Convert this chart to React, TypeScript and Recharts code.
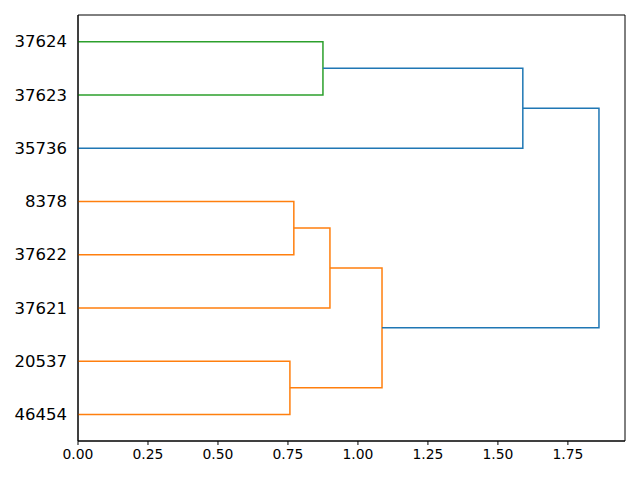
import { LineChart, Line, XAxis, YAxis, ReferenceArea } from 'recharts'

// leaves from bottom to top
const leafLabels = ['46454', '20537', '37621', '37622', '8378', '35736', '37623', '37624']
// merges: children ids (leaves 0..7, merges 8..), height, colour
const mergeLeft = [0, 3, 2, 8, 6, 5, 11]
const mergeRight = [1, 4, 9, 10, 7, 12, 13]
const mergeHeight = [0.757, 0.771, 0.9, 1.086, 0.875, 1.589, 1.861]
const mergeColor = ['#ff7f0e', '#ff7f0e', '#ff7f0e', '#ff7f0e', '#2ca02c', '#1f77b4', '#1f77b4']
const xTicks = [0, 0.25, 0.5, 0.75, 1, 1.25, 1.5, 1.75]

const n = leafLabels.length
const xMax = 1.954
const pos: number[] = leafLabels.map((_, i) => 5 + 10 * i)
const height: number[] = leafLabels.map(() => 0)
mergeLeft.forEach((l, k) => {
  pos.push((pos[l] + pos[mergeRight[k]]) / 2)
  height.push(mergeHeight[k])
})

const links = mergeLeft.map((l, k) => {
  const r = mergeRight[k]
  const h = mergeHeight[k]
  return [
    { h: height[l], p: pos[l] },
    { h, p: pos[l] },
    { h, p: pos[r] },
    { h: height[r], p: pos[r] },
  ]
})

export default function App() {
  return (
    <div style={{ position: 'absolute', left: 0, top: 0, background: '#fff', fontFamily: 'DejaVu Sans' }}>
      <LineChart width={640} height={480} margin={{ top: 15, right: 15, bottom: 0, left: 0 }}>
        <XAxis
          type="number"
          dataKey="h"
          domain={[0, xMax]}
          ticks={xTicks}
          tickFormatter={(v: number) => v.toFixed(2)}
          height={39}
          axisLine={{ stroke: '#000' }}
          tickLine={{ stroke: '#000' }}
          tickSize={4}
          tickMargin={4}
          tick={{ fill: '#000', fontSize: 13.9 }}
          allowDataOverflow
        />
        <YAxis
          type="number"
          dataKey="p"
          domain={[0, n * 10]}
          ticks={pos.slice(0, n)}
          tickFormatter={(v: number) => leafLabels[(v - 5) / 10]}
          width={78}
          axisLine={{ stroke: '#000' }}
          tickLine={false}
          tickSize={5}
          tickMargin={6}
          tick={{ fill: '#000', fontSize: 16.5 }}
          allowDataOverflow
        />
        <ReferenceArea x1={0} x2={xMax} y1={0} y2={n * 10} fill="none" stroke="#000" strokeWidth={1} />
        {links.map((d, k) => (
          <Line
            key={k}
            data={d}
            dataKey="p"
            stroke={mergeColor[k]}
            strokeWidth={1.5}
            dot={false}
            isAnimationActive={false}
          />
        ))}
      </LineChart>
    </div>
  )
}
